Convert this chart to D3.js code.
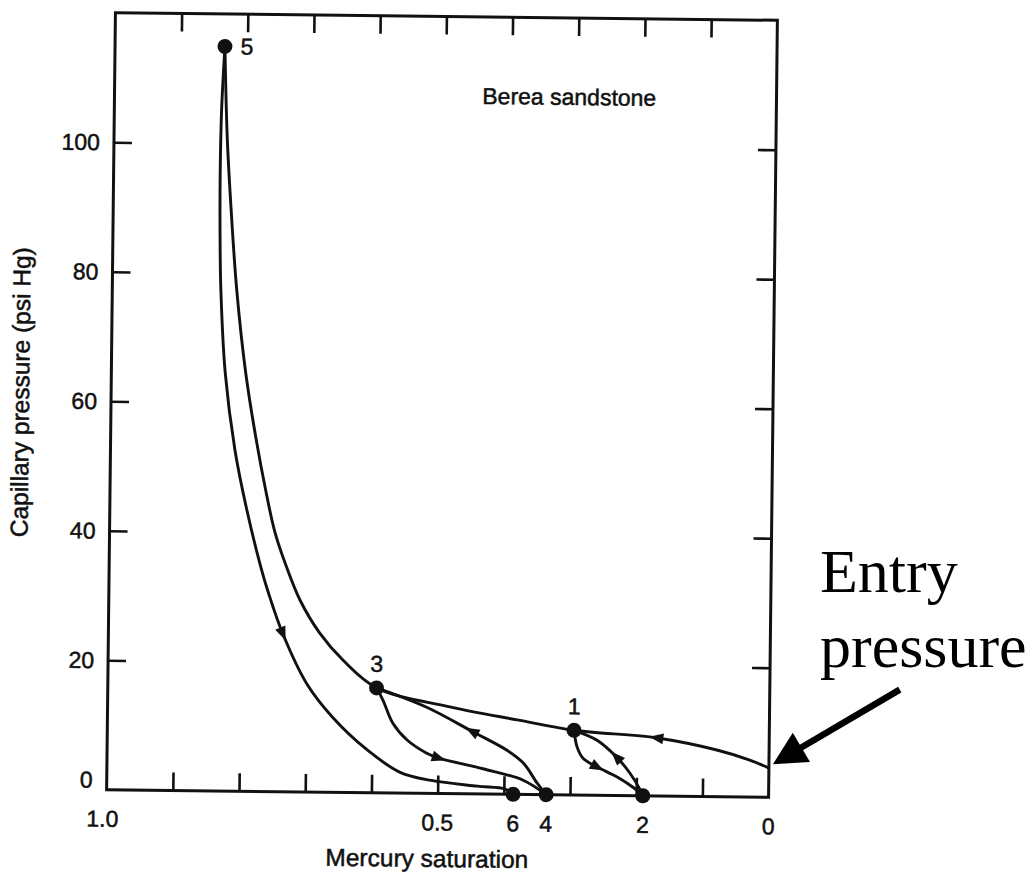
<!DOCTYPE html>
<html>
<head>
<meta charset="utf-8">
<script src="https://cdn.jsdelivr.net/npm/d3@7"></script>
<style>
  body { margin: 0; background: #fff; }
  svg { display: block; }
  .label { font-family: "Liberation Sans", Arial, Helvetica, sans-serif; font-size: 23px; fill: #111; stroke: #111; stroke-width: 0.5px; }
  .title { font-size: 24.5px; }
  .note { font-family: "Liberation Serif", "Times New Roman", serif; font-size: 62px; fill: #000; }
</style>
</head>
<body>
<svg id="chart" width="1035" height="875"></svg>
<script>
// values: mercury saturation (fraction) vs capillary pressure (psi Hg)
var sat_ticks = [0.1, 0.2, 0.3, 0.4, 0.5, 0.6, 0.7, 0.8, 0.9];
var sat_labels = ["1.0", "0.5", "0"];
var pc_ticks = [20, 40, 60, 80, 100];
var pc_labels = [0, 20, 40, 60, 80, 100];

// primary drainage: entry pressure -> 1 -> 3 -> 5
var drainage_main = [[0, 4.5], [0.029, 5.7], [0.079, 7.2], [0.169, 8.95], [0.295, 10.0], [0.381, 11.5],
    [0.483, 13.4], [0.594, 16.2], [0.645, 20.4], [0.681, 24.6], [0.711, 29.6], [0.732, 34.7],
    [0.750, 40], [0.765, 46.6], [0.780, 54.3], [0.797, 64.6], [0.812, 77.4], [0.822, 90],
    [0.829, 101], [0.834, 115]];
// imbibition 5 -> 6
var imbibition_5_6 = [[0.834, 115], [0.838, 105], [0.839, 95], [0.838, 85], [0.836, 77.4], [0.828, 64.6],
    [0.812, 52.7], [0.794, 43.9], [0.771, 34.7], [0.759, 30.7], [0.737, 24.5], [0.700, 16.8],
    [0.660, 11.6], [0.607, 6.6], [0.557, 3.2], [0.510, 2.0], [0.440, 1.2], [0.398, 0.8], [0.386, 0]];
// imbibition 3 -> 4
var imbibition_3_4 = [[0.594, 16.2], [0.584, 14.3], [0.569, 10.8], [0.547, 8.2], [0.517, 6.2],
    [0.5, 5.5], [0.432, 3.9], [0.371, 2.2], [0.336, 0]];
// drainage 4 -> 3
var drainage_4_3 = [[0.336, 0], [0.35, 1.8], [0.371, 4.85], [0.396, 6.8], [0.448, 9.6], [0.518, 13.3], [0.594, 16.2]];
// imbibition 1 -> 2
var imbibition_1_2 = [[0.295, 10], [0.29, 7.4], [0.281, 5.7], [0.26, 4.4], [0.229, 2.86], [0.205, 1.3], [0.19, 0]];
// drainage 2 -> 1
var drainage_2_1 = [[0.19, 0], [0.194, 0.9], [0.21, 3.5], [0.23, 5.9], [0.26, 8.5], [0.295, 10]];

var curves = [drainage_main, imbibition_5_6, imbibition_3_4, drainage_4_3, imbibition_1_2, drainage_2_1];

// direction arrows on the curves (curve index, saturation, pressure)
var arrow_curve = [0, 1, 2, 3, 4, 5];
var arrow_sat = [0.169, 0.737, 0.5, 0.448, 0.26, 0.23];
var arrow_pc = [8.95, 24.5, 5.5, 9.6, 4.4, 5.9];

// numbered turning points
var point_names = ["1", "2", "3", "4", "5", "6"];
var point_sat = [0.295, 0.19, 0.594, 0.336, 0.834, 0.386];
var point_pc = [10, 0, 16.2, 0, 115, 0];

var entry_pc = 4.5;

var svg = d3.select("svg#chart");

// the scan is a little tilted, so the whole plot is turned with it
var g = svg.append("g").attr("transform", "rotate(0.65,442,405)");

var x = d3.scaleLinear().domain([1, 0]).range([111, 773]);
var y = d3.scaleLinear().domain([0, 120]).range([793.5, 16.5]);

var TICK = 18;

function inner_axis(axis, transform) {
    var a = g.append("g")
        .attr("transform", transform)
        .call(axis.tickSize(-TICK).tickFormat(""));
    a.select(".domain").remove();
    a.selectAll("line").attr("stroke", "#111").attr("stroke-width", 2.6);
}

inner_axis(d3.axisBottom(x).tickValues(sat_ticks), "translate(0," + y(0) + ")");
inner_axis(d3.axisTop(x).tickValues(sat_ticks), "translate(0," + y(120) + ")");
inner_axis(d3.axisLeft(y).tickValues(pc_ticks), "translate(" + x(1) + ",0)");
inner_axis(d3.axisRight(y).tickValues(pc_ticks), "translate(" + x(0) + ",0)");

// frame
g.append("rect")
    .attr("x", x(1)).attr("y", y(120))
    .attr("width", x(0) - x(1)).attr("height", y(0) - y(120))
    .attr("fill", "none").attr("stroke", "#111").attr("stroke-width", 3);

// tick labels
g.selectAll(".ylab").data(pc_labels).enter().append("text")
    .attr("class", "label")
    .attr("x", x(1) - 14)
    .attr("y", d => y(d) - (d == 0 ? 10 : 0))
    .attr("dy", "0.35em")
    .attr("text-anchor", "end")
    .text(d => d);

g.selectAll(".xlab").data(sat_labels).enter().append("text")
    .attr("class", "label")
    .attr("x", d => x(+d) - (d == "1.0" ? 4 : 0))
    .attr("y", y(0) + 29)
    .attr("dy", "0.35em")
    .attr("text-anchor", "middle")
    .text(d => d);

// curves
var line = d3.line()
    .x(d => x(d[0]))
    .y(d => y(d[1]))
    .curve(d3.curveCatmullRom.alpha(0.5));

var paths = curves.map(function(c) {
    return g.append("path")
        .datum(c)
        .attr("fill", "none")
        .attr("stroke", "#111")
        .attr("stroke-width", 2.9)
        .attr("stroke-linejoin", "round")
        .attr("d", line);
});

// arrowheads along the curves, turned to the local direction
arrow_curve.forEach(function(ci, i) {
    var node = paths[ci].node();
    var total = node.getTotalLength();
    var tx = x(arrow_sat[i]), ty = y(arrow_pc[i]);
    var best = 0, bestd = Infinity;
    for (var l = 0; l <= total; l += 0.5) {
        var p = node.getPointAtLength(l);
        var d = (p.x - tx) * (p.x - tx) + (p.y - ty) * (p.y - ty);
        if (d < bestd) { bestd = d; best = l; }
    }
    var p0 = node.getPointAtLength(Math.max(0, best - 3));
    var p1 = node.getPointAtLength(Math.min(total, best + 3));
    var c = node.getPointAtLength(best);
    var angle = Math.atan2(p1.y - p0.y, p1.x - p0.x) * 180 / Math.PI;
    g.append("path")
        .attr("d", "M8,0 L-6,-5.5 L-6,5.5 Z")
        .attr("fill", "#111")
        .attr("transform", "translate(" + c.x + "," + c.y + ") rotate(" + angle + ")");
});

// points
g.selectAll(".pt").data(point_names).enter().append("circle")
    .attr("cx", (d, i) => x(point_sat[i]))
    .attr("cy", (d, i) => y(point_pc[i]))
    .attr("r", 7.5)
    .attr("fill", "#111");

g.selectAll(".ptlab").data(point_names).enter().append("text")
    .attr("class", "label")
    .attr("x", function(d, i) {
        return x(point_sat[i]) + (d == "5" ? 22 : 0);
    })
    .attr("y", function(d, i) {
        if (point_pc[i] == 0) return y(0) + 29;
        if (d == "5") return y(point_pc[i]);
        return y(point_pc[i]) - 24;
    })
    .attr("dy", "0.35em")
    .attr("text-anchor", "middle")
    .text(d => d);

// sample name
g.append("text")
    .attr("class", "label")
    .attr("x", x(0.313))
    .attr("y", y(107.8))
    .attr("dy", "0.35em")
    .attr("text-anchor", "middle")
    .text("Berea sandstone");

// axis titles
g.append("text")
    .attr("class", "label title")
    .attr("x", 432)
    .attr("y", 867)
    .attr("text-anchor", "middle")
    .text("Mercury saturation");

g.append("text")
    .attr("class", "label title")
    .attr("transform", "translate(29," + 397 + ") rotate(-90)")
    .attr("text-anchor", "middle")
    .text("Capillary pressure (psi Hg)");

// entry pressure annotation
var tip_x = x(0) + 4, tip_y = y(entry_pc) - 4;
var dx = 126, dy = -76;
var len = Math.sqrt(dx * dx + dy * dy);
var ux = dx / len, uy = dy / len;
var HEAD = 33, HALF = 17;
var bx = tip_x + ux * HEAD, by = tip_y + uy * HEAD;

g.append("line")
    .attr("x1", bx - ux * 4).attr("y1", by - uy * 4)
    .attr("x2", tip_x + dx).attr("y2", tip_y + dy)
    .attr("stroke", "#000").attr("stroke-width", 6.5);

g.append("path")
    .attr("d", "M" + tip_x + "," + tip_y +
        "L" + (bx - uy * HALF) + "," + (by + ux * HALF) +
        "L" + (bx + uy * HALF) + "," + (by - ux * HALF) + "Z")
    .attr("fill", "#000");

svg.append("text").attr("class", "note").attr("x", 820).attr("y", 592).text("Entry");
svg.append("text").attr("class", "note").attr("x", 820).attr("y", 667).text("pressure");
</script>
</body>
</html>
